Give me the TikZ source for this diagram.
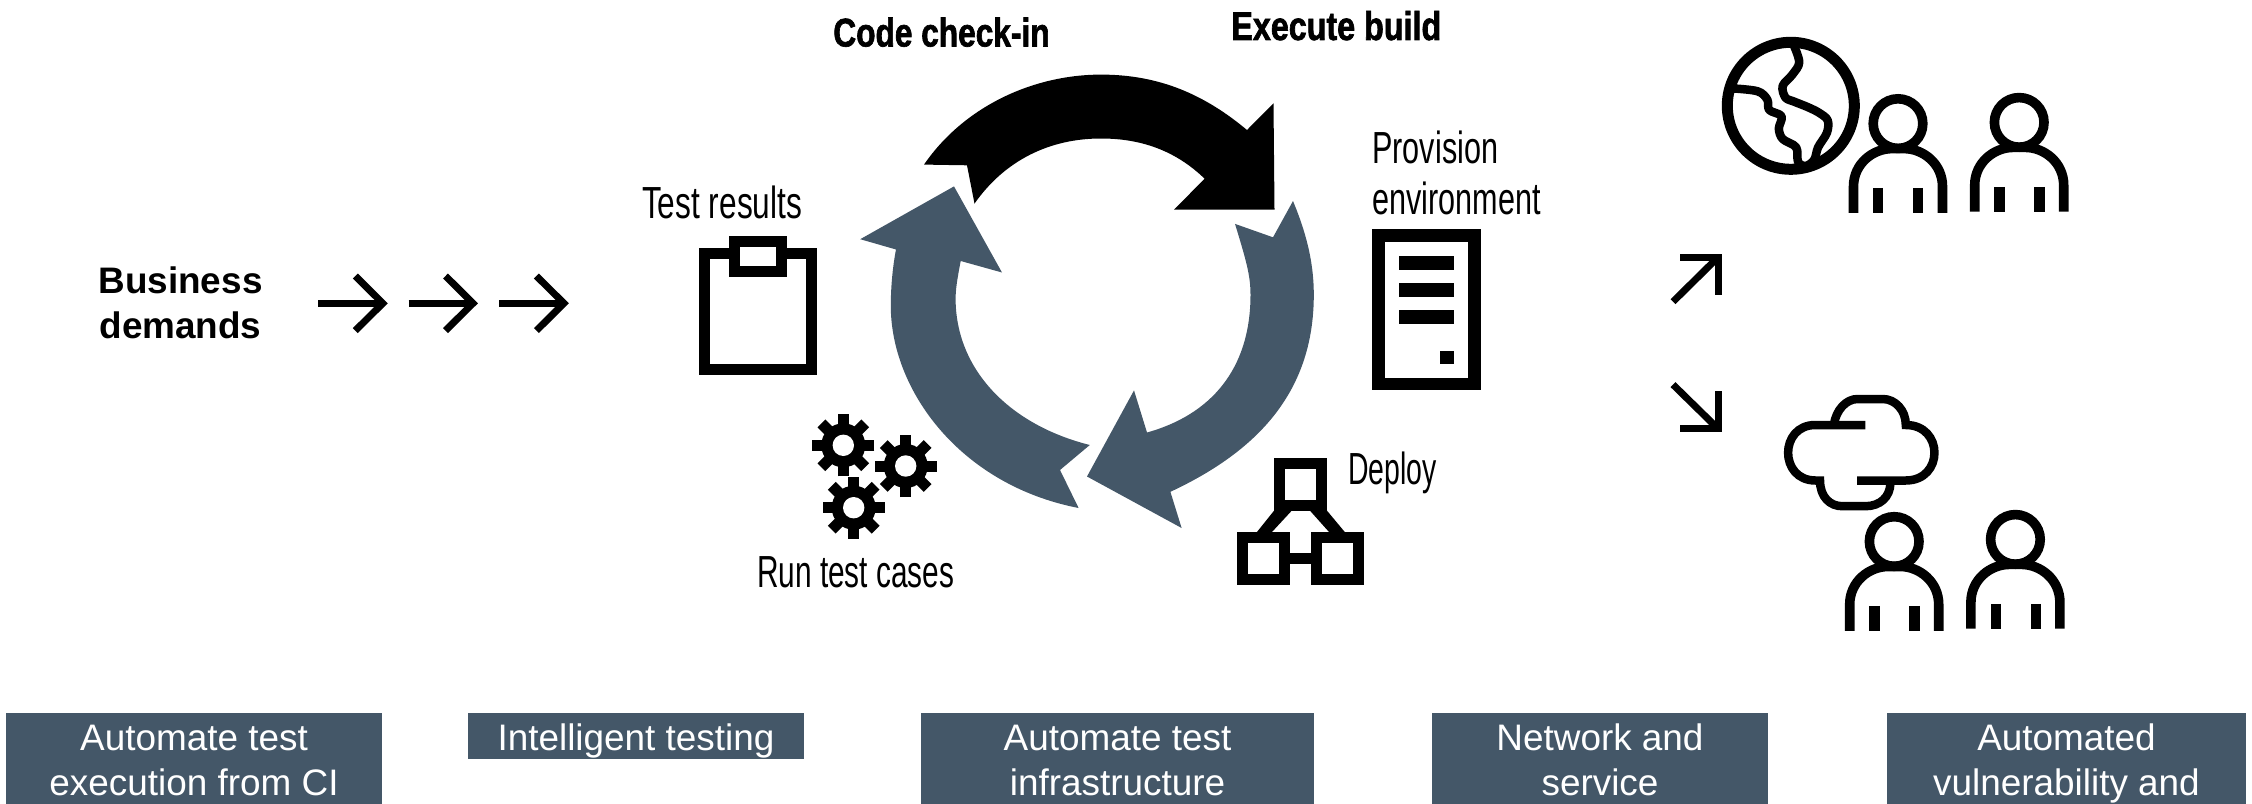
\documentclass[tikz,border=0pt]{standalone}
\usepackage{fontspec}
\setmainfont{Liberation Sans}
\newfontfamily\agency[FakeStretch=0.68]{Liberation Sans}
\newfontfamily\agencybold[FakeStretch=0.79,FakeBold=1.6]{Liberation Sans Bold}
\definecolor{slateblue}{HTML}{445768}
\def\px{0.5691pt}
\newcommand{\tagstrut}{\rule[-4.7pt]{0pt}{25.6pt}}
\tikzset{
  tagbox/.style={fill=slateblue,text=white,anchor=north,inner sep=0pt,align=center,
    font=\fontsize{21}{25.6}\selectfont},
  thinlabel/.style={anchor=base west,inner sep=0pt,font=\fontsize{25.6}{29}\selectfont\agency},
  heavylabel/.style={anchor=base west,inner sep=0pt,font=\fontsize{22.8}{26}\selectfont\agencybold},
  leadlabel/.style={anchor=base,inner sep=0pt,font=\fontsize{21}{25.6}\selectfont\bfseries},
  icon/.style={draw=black,line width=#1*\px,miter limit=10},
  personicon/.pic={
    \draw[icon=9.6] (0,0) circle[radius=24.8];
    \draw[icon=9.6] (-44.5,89.3) -- (-44.5,63) .. controls (-44.5,40) and (-25,25) .. (-6,25)
      -- (6,25) .. controls (25,25) and (44.5,40) .. (44.5,63) -- (44.5,89.3);
    \draw[icon=10.2] (-19.7,64.4) -- (-19.7,89.3);
    \draw[icon=10.2] (20.3,64.4) -- (20.3,89.3);
  },
  gearicon/.pic={
    \foreach \a in {0,45,90,135}{
      \draw[icon=11] (\a:31) -- (\a+180:31);
    }
    \fill[black] (0,0) circle[radius=22];
    \fill[white] (0,0) circle[radius=10.7];
  },
  longarrow/.pic={
    \draw[icon=7] (0,0) -- (65,0);
    \draw[icon=7] (37,-27.3) -- (64.5,0) -- (37,27.3);
  }
}
\begin{document}
\begin{tikzpicture}[x=0.02cm,y=-0.02cm]
\useasboundingbox (0,0) rectangle (2252,804);

% lead text and arrows
\node[leadlabel] (biz1) at (180.5,294) {Business};
\node[leadlabel] (biz2) at (180.5,338) {demands};
\pic at (318.3,303.3) {longarrow};
\pic at (408.5,303.3) {longarrow};
\pic at (499.4,303.3) {longarrow};

% cycle arrows
\fill[black] (924,164.6) -- (967,165.3) -- (974.5,203.6)
  .. controls (1005,160) and (1050,138.5) .. (1101,138.5)
  .. controls (1140,138.5) and (1175,150) .. (1204.6,178.7)
  -- (1174,209.7) -- (1274.5,209.7) -- (1273.5,103.3) -- (1247,130)
  .. controls (1205,95) and (1160,74.6) .. (1101,74.6)
  .. controls (1035,74.6) and (965,105) .. (924,164.6) -- cycle;
\fill[slateblue] (1293,201) -- (1273,237.3) -- (1235,223.9)
  .. controls (1246,260) and (1250.5,275) .. (1250.5,294.7)
  .. controls (1250.5,370) and (1210,415) .. (1147,432.5)
  -- (1134,390.4) -- (1087,476.5) -- (1181.6,528) -- (1170.4,491.8)
  .. controls (1260,450) and (1313.8,390) .. (1313.8,294.7)
  .. controls (1313.8,260) and (1305,230) .. (1293,201) -- cycle;
\fill[slateblue] (1089.8,445) -- (1060,470) -- (1078.6,508)
  .. controls (960,485) and (890.8,390) .. (890.8,306)
  .. controls (890.8,285) and (893,265) .. (896,249.5)
  -- (860.2,239.2) -- (954,186.4) -- (1002,272.5) -- (960.7,261)
  .. controls (957,280) and (955.6,290) .. (955.6,298.5)
  .. controls (955.6,370) and (1010,425) .. (1089.8,445) -- cycle;

% cycle labels
\node[heavylabel] (code) at (833,46.5) {Code check-in};
\node[heavylabel] (exec) at (1231,40) {\scalebox{1.02}[1]{Execute build}};
\node[thinlabel] (prov1) at (1372,164) {Provision};
\node[thinlabel] (prov2) at (1372,215) {environment};
\node[thinlabel] (deploy) at (1347.7,484.5) {\scalebox{0.93}[1]{Deploy}};
\node[thinlabel] (run) at (756.7,587.5) {\scalebox{0.975}[1]{Run test cases}};
\node[thinlabel] (results) at (641.7,218.5) {\scalebox{1.035}[1]{Test results}};

% clipboard
\draw[icon=11] (704.5,253.5) rectangle (811.5,369.5);
\draw[icon=11,fill=white] (734,242) rectangle (781,271.5);

% gears
\pic at (843.3,445.3) {gearicon};
\pic at (905.7,466) {gearicon};
\pic at (853.7,507.7) {gearicon};

% server
\draw[icon=12.8] (1378.4,235.4) rectangle (1474.2,383.9);
\fill[black] (1399,255.6) rectangle (1453.6,269.8);
\fill[black] (1399,283.2) rectangle (1453.6,296.6);
\fill[black] (1399,310) rectangle (1453.6,323.8);
\fill[black] (1439.8,350.6) rectangle (1453.6,363.6);

% deploy hierarchy
\fill[black] (1274,510.7) -- (1291.7,510.7) -- (1271.7,532.3) -- (1256.7,532.3) -- cycle;
\fill[black] (1310,510.7) -- (1327,510.7) -- (1345,532.3) -- (1329.3,532.3) -- cycle;
\draw[icon=10.8] (1290,558.5) -- (1311,558.5);
\draw[icon=10.7] (1279.4,463.6) rectangle (1321.7,505.4);
\draw[icon=10.7] (1242.6,537.6) rectangle (1284.7,579.4);
\draw[icon=10.7] (1316.3,537.6) rectangle (1358.4,579.4);

% routing arrows
\draw[icon=7] (1673,301.7) -- (1717.3,258);
\draw[icon=7] (1680,257.3) -- (1718,257.3) -- (1718,294.6);
\draw[icon=7] (1673,384.6) -- (1717.3,428);
\draw[icon=7] (1680,428.2) -- (1718,428.2) -- (1718,390.9);

% globe
\draw[icon=11] (1790.8,105.8) circle[radius=63.5];
\begin{scope}[shift={(1650,0)},xscale=0.3846,yscale=0.415]
\draw[icon=8.5,line join=round] plot[smooth,tension=.55] coordinates {
  (372,105) (388,150) (370,180) (345,207) (352,235) (375,245) (410,258) (440,272) (462,290)
  (460,320) (437,355) (427,385) (405,400) (385,390) (380,355) (345,335) (335,310) (342,280)
  (310,265) (305,240) (280,220) (215,213)};
\end{scope}

% people
\pic at (1898,123.6) {personicon};
\pic at (2019.2,122.4) {personicon};
\pic at (1894.2,541.5) {personicon};
\pic at (2015.4,539.4) {personicon};

% cloud
\draw[icon=8.5] (1865.4,425) -- (1815.4,425) .. controls (1779,425) and (1779,480.5) .. (1815.4,480.5) -- (1820,480.5)
  .. controls (1820,497) and (1830,506.2) .. (1842.3,506.2) -- (1865.4,506.2) .. controls (1880,506.2) and (1890,497) .. (1890.4,483.4);
\draw[icon=8.5] (1857,480.5) -- (1905.8,480.5) .. controls (1944,480.5) and (1944,425) .. (1905.8,425)
  .. controls (1905.8,410) and (1895,399) .. (1882.7,399) -- (1857.7,399) .. controls (1846,399) and (1836,410) .. (1833.8,425);

% bottom tags
\node[tagbox,minimum width=376*\px,minimum height=91*\px] (t1) at (194,713) {\tagstrut Automate test\\\tagstrut execution from CI};
\node[tagbox,minimum width=336*\px,minimum height=46*\px] (t2) at (636,713) {\tagstrut Intelligent testing};
\node[tagbox,minimum width=393*\px,minimum height=91*\px] (t3) at (1117.5,713) {\tagstrut Automate test\\\tagstrut infrastructure};
\node[tagbox,minimum width=336*\px,minimum height=91*\px] (t4) at (1600,713) {\tagstrut Network and\\\tagstrut service};
\node[tagbox,minimum width=359*\px,minimum height=91*\px] (t5) at (2066.5,713) {\tagstrut Automated\\\tagstrut vulnerability and};
\end{tikzpicture}
\end{document}
